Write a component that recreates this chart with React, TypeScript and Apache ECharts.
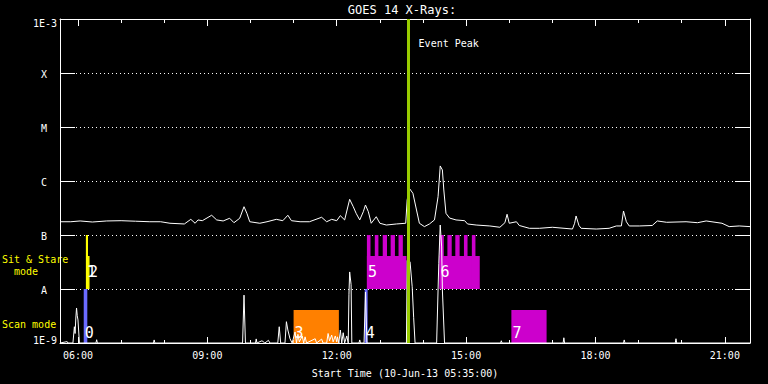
import React, { useEffect, useRef } from 'react';
import * as echarts from 'echarts';

const TITLE = 'GOES 14 X-Rays:';
const START_TIME = '05:35';
const END_TIME = '21:35';
const START_LABEL = 'Start Time (10-Jun-13 05:35:00)';
const EVENT_PEAK_TIME = '13:40';
const EVENT_PEAK_LABEL = 'Event Peak';

const xMajorHours = [6, 9, 12, 15, 18, 21];
const xHourTicks = [6, 7, 8, 9, 10, 11, 12, 13, 14, 15, 16, 17, 18, 19, 20, 21];
const yTickLabels = ['1E-9', 'A', 'B', 'C', 'M', 'X', '1E-3'];
const Y_MIN_EXP = -9;
const Y_MAX_EXP = -3;

const modeLabels = ['Scan mode', 'Sit & Stare\n  mode'];

// GOES 1-8 A flux (W/m^2)
const goesCurve: [string, number][] = [
  ['05:35', 1.76e-7], ['05:50', 1.76e-7], ['06:03', 1.82e-7], ['06:20', 1.74e-7], ['06:40', 1.82e-7],
  ['07:00', 1.84e-7], ['07:20', 1.8e-7], ['07:40', 1.76e-7], ['07:55', 1.76e-7], ['08:08', 1.65e-7],
  ['08:28', 1.6e-7], ['08:37', 1.95e-7], ['08:43', 1.65e-7], ['08:47', 1.9e-7], ['08:53', 1.84e-7],
  ['09:06', 2.32e-7], ['09:13', 1.9e-7], ['09:22', 1.82e-7], ['09:31', 2.04e-7], ['09:37', 1.69e-7],
  ['09:45', 2.04e-7], ['09:51', 3.34e-7], ['09:55', 2.52e-7], ['09:59', 1.76e-7], ['10:13', 1.65e-7],
  ['10:23', 1.76e-7], ['10:36', 1.95e-7], ['10:45', 1.84e-7], ['10:52', 2.32e-7], ['10:57', 1.84e-7],
  ['11:09', 1.76e-7], ['11:22', 1.76e-7], ['11:39', 2.13e-7], ['11:46', 1.76e-7], ['11:53', 1.95e-7],
  ['12:00', 1.84e-7], ['12:05', 2.28e-7], ['12:11', 1.9e-7], ['12:18', 4.58e-7], ['12:23', 3.34e-7],
  ['12:27', 2.52e-7], ['12:32', 1.9e-7], ['12:37', 2.7e-7], ['12:40', 3.59e-7], ['12:44', 2.7e-7],
  ['12:48', 1.65e-7], ['12:55', 2.18e-7], ['13:00', 1.65e-7], ['13:09', 1.53e-7], ['13:23', 1.6e-7],
  ['13:36', 1.65e-7], ['13:38', 4.45e-7], ['13:41', 7.33e-7], ['13:46', 5.92e-7], ['13:51', 2.9e-7],
  ['13:55', 1.65e-7], ['14:02', 1.43e-7], ['14:09', 1.6e-7], ['14:16', 1.9e-7], ['14:21', 5.12e-7],
  ['14:24', 1.9e-6], ['14:27', 1.6e-6], ['14:29', 6.81e-7], ['14:32', 2.52e-7], ['14:37', 2.06e-7],
  ['14:46', 1.9e-7], ['14:58', 1.84e-7], ['15:02', 1.6e-7], ['15:14', 1.53e-7], ['15:33', 1.47e-7],
  ['15:47', 1.39e-7], ['15:54', 1.69e-7], ['15:57', 2.42e-7], ['16:00', 1.65e-7], ['16:10', 1.76e-7],
  ['16:14', 1.5e-7], ['16:28', 1.33e-7], ['16:42', 1.33e-7], ['17:00', 1.39e-7], ['17:28', 1.29e-7],
  ['17:31', 1.65e-7], ['17:33', 2.25e-7], ['17:37', 1.5e-7], ['17:40', 1.33e-7], ['18:01', 1.29e-7],
  ['18:19', 1.33e-7], ['18:29', 1.47e-7], ['18:36', 1.47e-7], ['18:39', 2.78e-7], ['18:43', 1.76e-7],
  ['18:47', 1.47e-7], ['19:01', 1.47e-7], ['19:19', 1.5e-7], ['19:26', 1.82e-7], ['19:39', 1.72e-7],
  ['20:06', 1.76e-7], ['20:22', 1.69e-7], ['20:34', 1.82e-7], ['20:56', 1.65e-7], ['21:06', 1.43e-7],
  ['21:20', 1.47e-7], ['21:35', 1.43e-7],
];

// lower trace
const lowerCurve: [string, number][] = [
  ['05:35', 1e-9], ['05:45', 1.06e-9], ['05:46', 1e-9], ['05:53', 1e-9], ['05:55', 2.0e-9],
  ['05:56', 1.5e-9], ['05:57', 2.9e-9], ['05:58', 4.45e-9], ['05:59', 3.2e-9], ['06:00', 2.67e-9],
  ['06:02', 1e-9], ['06:25', 1e-9], ['06:26', 1.15e-9], ['06:27', 1e-9], ['07:45', 1e-9],
  ['07:46', 1.14e-9], ['07:47', 1e-9], ['09:49', 1e-9], ['09:51', 7.7e-9], ['09:53', 1e-9],
  ['10:07', 1e-9], ['10:08', 1.19e-9], ['10:09', 1e-9], ['10:16', 1.1e-9], ['10:20', 1e-9],
  ['10:25', 1.12e-9], ['10:27', 1e-9], ['10:38', 1e-9], ['10:40', 2.0e-9], ['10:42', 1e-9],
  ['10:48', 1e-9], ['10:50', 2.48e-9], ['10:52', 1.74e-9], ['10:55', 1.2e-9], ['10:58', 1e-9],
  ['11:02', 1.6e-9], ['11:04', 1e-9], ['11:06', 1.45e-9], ['11:08', 1.05e-9], ['11:12', 1.35e-9],
  ['11:14', 1e-9], ['11:16', 1.3e-9], ['11:18', 1e-9], ['11:30', 1.2e-9], ['11:32', 1e-9],
  ['11:39', 1.18e-9], ['11:41', 1e-9], ['11:46', 1e-9], ['11:48', 1.5e-9], ['11:50', 1.1e-9],
  ['11:53', 1.4e-9], ['11:55', 1.05e-9], ['11:58', 1.35e-9], ['12:00', 1.05e-9], ['12:01', 1.3e-9],
  ['12:03', 1e-9], ['12:05', 1.74e-9], ['12:07', 1e-9], ['12:09', 1.55e-9], ['12:11', 1e-9],
  ['12:14', 1.35e-9], ['12:16', 1e-9], ['12:17', 8e-9], ['12:18', 2.07e-8], ['12:20', 1.2e-8],
  ['12:21', 1e-9], ['12:31', 1e-9], ['12:32', 1.14e-9], ['12:33', 1e-9], ['12:38', 1e-9],
  ['12:40', 8.8e-9], ['12:42', 1e-9], ['13:37', 1e-9], ['13:38', 3.4e-8], ['13:42', 3.2e-8],
  ['13:45', 1.1e-8], ['13:47', 3e-9], ['13:49', 1e-9], ['14:19', 1e-9], ['14:22', 3e-8],
  ['14:24', 1.53e-7], ['14:26', 6e-8], ['14:27', 9.6e-9], ['14:30', 1e-9], ['15:48', 1e-9],
  ['15:49', 1.1e-9], ['15:50', 1e-9], ['17:15', 1e-9], ['17:16', 1.25e-9], ['17:17', 1e-9],
  ['18:39', 1e-9], ['18:40', 1.14e-9], ['18:41', 1e-9], ['19:51', 1e-9], ['19:52', 1.2e-9],
  ['19:53', 1e-9], ['21:35', 1e-9],
];

// observations: row 0 = scan mode, row 1 = sit & stare mode
const obsNames = ['0', '1', '2', '3', '4', '5', '6', '7'];
const obsRow = [0, 1, 1, 0, 0, 1, 1, 0];
const obsStart = ['06:08', '06:11', '06:14', '11:00', '12:39', '12:42', '14:23', '16:03'];
const obsEnd = ['06:13', '06:14', '06:15', '12:03', '12:43', '13:37', '15:19', '16:52'];
const obsLevel = [1, 1, 0.61, 0.61, 1, 0.61, 0.61, 0.61];
const obsProgram = ['P1', 'P2', 'P2', 'P3', 'P1', 'P4', 'P4', 'P4'];

// sub-exposures of obs 5 and 6
const subObs = [5, 5, 5, 5, 5, 6, 6, 6, 6, 6];
const subStart = ['12:42', '12:53', '13:04', '13:15', '13:26', '14:23', '14:34', '14:45', '14:57', '15:08'];
const subEnd = ['12:47', '12:58', '13:10', '13:21', '13:32', '14:29', '14:40', '14:51', '15:02', '15:13'];

const programColor: Record<string, string> = {
  P1: '#6b6bff',
  P2: '#ffff00',
  P3: '#ff8000',
  P4: '#cc00cc',
};

const FONT = '"DejaVu Sans Mono", "Liberation Mono", monospace';
const WHITE = '#ffffff';

const hrs = (s: string) => {
  const [a, b, c] = s.split(':').map(Number);
  return a + b / 60 + (c || 0) / 3600;
};
const pad = (n: number) => (n < 10 ? '0' + n : '' + n);

export default function App() {
  const ref = useRef<HTMLDivElement>(null);

  useEffect(() => {
    if (!ref.current) return;
    const chart = echarts.init(ref.current, undefined, { renderer: 'svg' });

    const xMin = hrs(START_TIME);
    const xMax = hrs(END_TIME);

    const obsData = obsNames.map((n, i) => [hrs(obsStart[i]), hrs(obsEnd[i]), obsRow[i], obsLevel[i], i]);
    const subData = subObs.map((o, i) => [hrs(subStart[i]), hrs(subEnd[i]), obsRow[o], 1, o]);
    const labelData = obsNames.map((n, i) => [hrs(obsStart[i]), obsRow[i], i]);

    const rectItem = (params: any, api: any) => {
      const s = api.value(0);
      const e = api.value(1);
      const row = api.value(2);
      const lvl = api.value(3);
      const idx = api.value(4);
      const base = Math.pow(10, Y_MIN_EXP + row);
      const top = Math.pow(10, Y_MIN_EXP + row + lvl);
      const p1 = api.coord([s, top]);
      const p2 = api.coord([e, base]);
      return {
        type: 'rect',
        shape: { x: p1[0], y: p1[1], width: Math.max(p2[0] - p1[0], 1.5), height: p2[1] - p1[1] },
        style: { fill: programColor[obsProgram[idx]] },
      };
    };

    const rowLabelOffset = [10, 17];

    const xCommon = {
      type: 'value',
      min: xMin,
      max: xMax,
      splitLine: { show: false },
    };

    const option: any = {
      animation: false,
      backgroundColor: '#000000',
      grid: { left: 60, right: 18, top: 19, bottom: 41, containLabel: false },
      xAxis: [
        {
          ...xCommon,
          position: 'bottom',
          axisLine: { show: true, lineStyle: { color: WHITE, width: 1 } },
          axisTick: { show: true, inside: true, length: 6, customValues: xMajorHours, lineStyle: { color: WHITE } },
          axisLabel: {
            show: true,
            customValues: xMajorHours,
            formatter: (v: number) => pad(Math.round(v)) + ':00',
            color: WHITE,
            fontFamily: FONT,
            fontSize: 10,
            margin: 7,
          },
          name: START_LABEL,
          nameLocation: 'middle',
          nameGap: 25,
          nameTextStyle: { color: WHITE, fontFamily: FONT, fontSize: 10 },
        },
        {
          ...xCommon,
          position: 'bottom',
          axisLine: { show: false },
          axisTick: { show: true, inside: true, length: 3, customValues: xHourTicks, lineStyle: { color: WHITE } },
          axisLabel: { show: false },
        },
        {
          ...xCommon,
          position: 'top',
          axisLine: { show: true, lineStyle: { color: WHITE, width: 1 } },
          axisTick: { show: true, inside: true, length: 7, customValues: xMajorHours, lineStyle: { color: WHITE } },
          axisLabel: { show: false },
        },
        {
          ...xCommon,
          position: 'top',
          axisLine: { show: false },
          axisTick: { show: true, inside: true, length: 4, customValues: xHourTicks, lineStyle: { color: WHITE } },
          axisLabel: { show: false },
        },
      ],
      yAxis: [
        {
          type: 'log',
          logBase: 10,
          min: Math.pow(10, Y_MIN_EXP),
          max: Math.pow(10, Y_MAX_EXP),
          splitNumber: Y_MAX_EXP - Y_MIN_EXP,
          position: 'left',
          axisLine: { show: true, lineStyle: { color: WHITE, width: 1 } },
          axisTick: { show: true, inside: true, length: 15, lineStyle: { color: WHITE } },
          splitLine: { show: true, lineStyle: { color: WHITE, width: 1, type: [1, 3] } },
          axisLabel: {
            show: true,
            margin: 3,
            formatter: (v: number) => {
              const i = Math.round(Math.log10(v)) - Y_MIN_EXP;
              const t = yTickLabels[i] ?? '';
              if (i === 0) return `{b|${t}}`;
              if (i === yTickLabels.length - 1) return `{t|${t}}`;
              return `{l|${t}}`;
            },
            rich: {
              t: { color: WHITE, fontFamily: FONT, fontSize: 10, padding: [8, 0, 0, 0] },
              b: { color: WHITE, fontFamily: FONT, fontSize: 10, padding: [0, 0, 6, 0] },
              l: { color: WHITE, fontFamily: FONT, fontSize: 10, padding: [2, 10, 0, 0] },
            },
          },
        },
        {
          type: 'log',
          logBase: 10,
          min: Math.pow(10, Y_MIN_EXP),
          max: Math.pow(10, Y_MAX_EXP),
          splitNumber: Y_MAX_EXP - Y_MIN_EXP,
          position: 'right',
          axisLine: { show: true, lineStyle: { color: WHITE, width: 1 } },
          axisTick: { show: true, inside: true, length: 15, lineStyle: { color: WHITE } },
          splitLine: { show: false },
          axisLabel: { show: false },
        },
      ],
      series: [
        {
          type: 'custom',
          name: 'observations',
          xAxisIndex: 0,
          yAxisIndex: 0,
          z: 1,
          silent: true,
          renderItem: rectItem,
          encode: { x: [0, 1] },
          data: obsData,
        },
        {
          type: 'custom',
          name: 'sub-exposures',
          xAxisIndex: 0,
          yAxisIndex: 0,
          z: 1,
          silent: true,
          renderItem: rectItem,
          encode: { x: [0, 1] },
          data: subData,
        },
        {
          type: 'line',
          name: 'GOES',
          xAxisIndex: 0,
          yAxisIndex: 0,
          z: 3,
          symbol: 'none',
          showSymbol: false,
          silent: true,
          lineStyle: { color: WHITE, width: 1 },
          data: goesCurve.map(([t, v]) => [hrs(t), v]),
        },
        {
          type: 'line',
          name: 'lower',
          xAxisIndex: 0,
          yAxisIndex: 0,
          z: 3,
          symbol: 'none',
          showSymbol: false,
          silent: true,
          lineStyle: { color: WHITE, width: 1 },
          data: lowerCurve.map(([t, v]) => [hrs(t), v]),
          markLine: {
            silent: true,
            symbol: ['none', 'none'],
            z: 5,
            label: { show: false },
            lineStyle: { color: '#99cc00', width: 3, type: 'solid' },
            data: [{ xAxis: hrs(EVENT_PEAK_TIME) }],
          },
        },
        {
          type: 'custom',
          name: 'obs labels',
          xAxisIndex: 0,
          yAxisIndex: 0,
          z: 6,
          silent: true,
          encode: { x: 0 },
          renderItem: (params: any, api: any) => {
            const s = api.value(0);
            const row = api.value(1);
            const idx = api.value(2);
            const p = api.coord([s, Math.pow(10, Y_MIN_EXP + row)]);
            return {
              type: 'text',
              x: p[0] + 1,
              y: p[1] - rowLabelOffset[row],
              style: {
                text: obsNames[idx],
                fill: WHITE,
                fontSize: 15,
                fontFamily: FONT,
                align: 'left',
                verticalAlign: 'middle',
              },
            };
          },
          data: labelData,
        },
      ],
    };

    const baseGraphics: any[] = [
      {
        id: 'title',
        type: 'text',
        x: 402,
        y: 10,
        style: { text: TITLE, fill: WHITE, fontSize: 12, fontFamily: FONT, align: 'center', verticalAlign: 'middle' },
      },
      {
        id: 'sit',
        type: 'text',
        x: 2,
        y: 265,
        style: { text: modeLabels[1], fill: '#ffff00', fontSize: 10, lineHeight: 12, fontFamily: FONT, align: 'left', verticalAlign: 'middle' },
      },
      {
        id: 'scan',
        type: 'text',
        x: 2,
        y: 324,
        style: { text: modeLabels[0], fill: '#ffff00', fontSize: 10, fontFamily: FONT, align: 'left', verticalAlign: 'middle' },
      },
    ];

    option.graphic = baseGraphics;
    chart.setOption(option);

    const peakX = chart.convertToPixel({ xAxisIndex: 0 }, hrs(EVENT_PEAK_TIME)) as number;
    chart.setOption({
      graphic: [
        ...baseGraphics,
        {
          id: 'peak',
          type: 'text',
          x: peakX + 10,
          y: 43,
          style: { text: EVENT_PEAK_LABEL, fill: WHITE, fontSize: 10, fontFamily: FONT, align: 'left', verticalAlign: 'middle' },
        },
      ],
    });

    return () => {
      chart.dispose();
    };
  }, []);

  return (
    <div
      ref={ref}
      style={{ position: 'absolute', left: 0, top: 0, width: 768, height: 384, background: '#000' }}
    />
  );
}
